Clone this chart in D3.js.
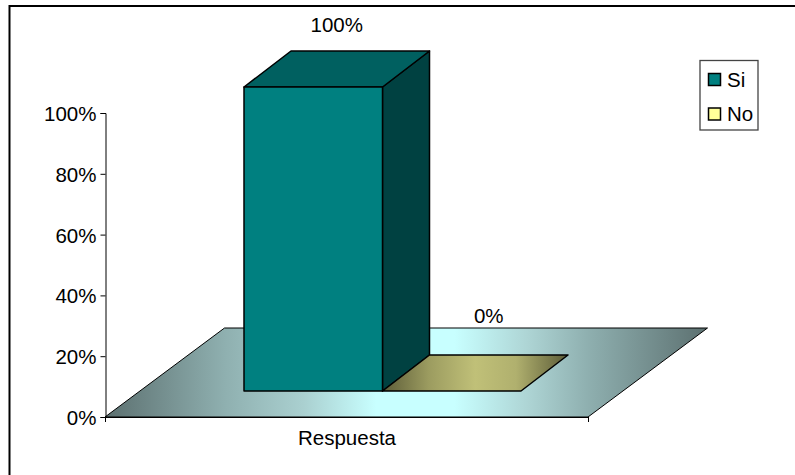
<!DOCTYPE html>
<html>
<head>
<meta charset="utf-8">
<script src="https://cdn.jsdelivr.net/npm/d3@7/dist/d3.min.js"></script>
<style>
  html, body { margin: 0; padding: 0; background: #fff; }
  svg { display: block; }
  text { font-family: "Liberation Sans", Arial, sans-serif; fill: #000; }
</style>
</head>
<body>
<svg id="chart" width="795" height="475"></svg>
<script>
// Survey answers, as a share of respondents
const categories = ["Respuesta"];
const seriesNames = ["Si", "No"];
const seriesValues = [100, 0];
const seriesColors = ["#008080", "#c0c078"];
const legendColors = ["#008080", "#ffff99"];
const tickValues = [0, 20, 40, 60, 80, 100];

const width = 795, height = 475;
const fontSize = 20.5;
const svg = d3.select("#chart").attr("viewBox", [0, 0, width, height]);

// Front face of the plot box and the oblique depth of the floor
const axisLeft = 105, axisRight = 588, axisBottom = 417, axisTop = 113;
const floorDx = 119.5, floorDy = 89;

const y = d3.scaleLinear().domain([0, 100]).range([axisBottom, axisTop]);
const x0 = d3.scaleBand().domain(categories).range([axisLeft, axisRight]);
const x1 = d3.scaleBand().domain(seriesNames)
  .range([axisLeft + 139, axisLeft + 416]);

// Depth position of the bars on the floor
const barShiftY = -26;
const barDx = 47, barDy = 36;

// Data label placement relative to each bar's front top edge centre
const labelDx = [23.5, 37];
const labelDy = [-55, -68];

const shade = (c, k) => d3.rgb(c).darker(k).formatHex();

const defs = svg.append("defs");

function horizontalGradient(id, stops) {
  const g = defs.append("linearGradient").attr("id", id)
    .attr("x1", 0).attr("x2", 1).attr("y1", 0).attr("y2", 0);
  stops.forEach(([o, c]) => g.append("stop").attr("offset", o).attr("stop-color", c));
}
horizontalGradient("floorFill", [
  [0, "#5c7070"], [0.2, "#8fb0b0"], [0.33, "#aad0d0"], [0.45, "#c8ffff"],
  [0.58, "#c8ffff"], [0.7, "#aed5d5"], [0.8, "#8fb0b0"], [1, "#5c7070"]
]);
horizontalGradient("noFill", [
  [0, "#5c5c38"], [0.25, "#9c9c60"], [0.5, "#c0c078"], [0.72, "#b0b06e"], [1, "#5c5c38"]
]);

const line = d3.line();

// Chart frame: only its top and left edges fall inside the page
svg.append("path")
  .attr("d", line([[9.5, height], [9.5, 6], [width, 6]]))
  .attr("fill", "none").attr("stroke", "#000").attr("stroke-width", 2);

// Floor of the 3D plot
svg.append("path")
  .attr("d", line([
    [axisLeft, axisBottom], [axisRight, axisBottom],
    [axisRight + floorDx, axisBottom - floorDy], [axisLeft + floorDx, axisBottom - floorDy]
  ]) + "Z")
  .attr("fill", "url(#floorFill)").attr("stroke", "#000").attr("stroke-width", 1);

// Value axis
const axis = svg.append("g")
  .attr("transform", `translate(${axisLeft + 0.5},0)`)
  .call(d3.axisLeft(y).tickValues(tickValues).tickSize(5).tickPadding(4).tickFormat(d => d + "%"));
axis.selectAll("text")
  .attr("font-size", fontSize)
  .attr("y", 1)
  .style("font-family", '"Liberation Sans", Arial, sans-serif')
  .attr("fill", "#000");
axis.selectAll("line,path").attr("stroke", "#000");

// Category axis
svg.append("line")
  .attr("x1", axisLeft).attr("x2", axisRight)
  .attr("y1", axisBottom + 0.5).attr("y2", axisBottom + 0.5)
  .attr("stroke", "#000");
[axisLeft, axisRight].forEach(px => svg.append("line")
  .attr("x1", px + 0.5).attr("x2", px + 0.5)
  .attr("y1", axisBottom).attr("y2", axisBottom + 5).attr("stroke", "#000"));
svg.append("text")
  .attr("x", x0(categories[0]) + x0.bandwidth() / 2 + 0.5).attr("y", 445)
  .attr("text-anchor", "middle").attr("font-size", fontSize)
  .text(categories[0]);

// Bars drawn as oblique boxes, each from its series value
seriesNames.forEach((name, i) => {
  const v = seriesValues[i];
  const xl = x1(name), xr = xl + x1.bandwidth();
  const yb = y(0) + barShiftY, yt = y(v) + barShiftY;
  const g = svg.append("g").attr("stroke", "#000").attr("stroke-width", 1.5).attr("stroke-linejoin", "round");
  const base = seriesColors[i];
  if (v > 0) {
    g.append("path")
      .attr("d", line([[xr, yb], [xr + barDx, yb - barDy], [xr + barDx, yt - barDy], [xr, yt]]) + "Z")
      .attr("fill", shade(base, 1.9));
    g.append("path")
      .attr("d", line([[xl, yt], [xr, yt], [xr + barDx, yt - barDy], [xl + barDx, yt - barDy]]) + "Z")
      .attr("fill", shade(base, 0.8));
    g.append("rect")
      .attr("x", xl).attr("y", yt).attr("width", xr - xl).attr("height", yb - yt)
      .attr("fill", base);
  } else {
    g.append("path")
      .attr("d", line([[xl, yb], [xr, yb], [xr + barDx, yb - barDy], [xl + barDx, yb - barDy]]) + "Z")
      .attr("fill", "url(#noFill)");
  }
  svg.append("text")
    .attr("x", (xl + xr) / 2 + labelDx[i]).attr("y", yt + labelDy[i])
    .attr("text-anchor", "middle").attr("font-size", fontSize)
    .text(v + "%");
});

// Legend
const legend = svg.append("g");
legend.append("rect")
  .attr("x", 700).attr("y", 60.5).attr("width", 58).attr("height", 69.5)
  .attr("fill", "#fff").attr("stroke", "#444").attr("stroke-width", 1.3);
seriesNames.forEach((name, i) => {
  const cy = 79.5 + i * 34.5;
  legend.append("rect")
    .attr("x", 708.5).attr("y", cy - 6).attr("width", 12).attr("height", 12)
    .attr("fill", legendColors[i]).attr("stroke", "#000").attr("stroke-width", 1.5);
  legend.append("text").attr("x", 727).attr("y", cy + 7).attr("font-size", fontSize).text(name);
});
</script>
</body>
</html>
